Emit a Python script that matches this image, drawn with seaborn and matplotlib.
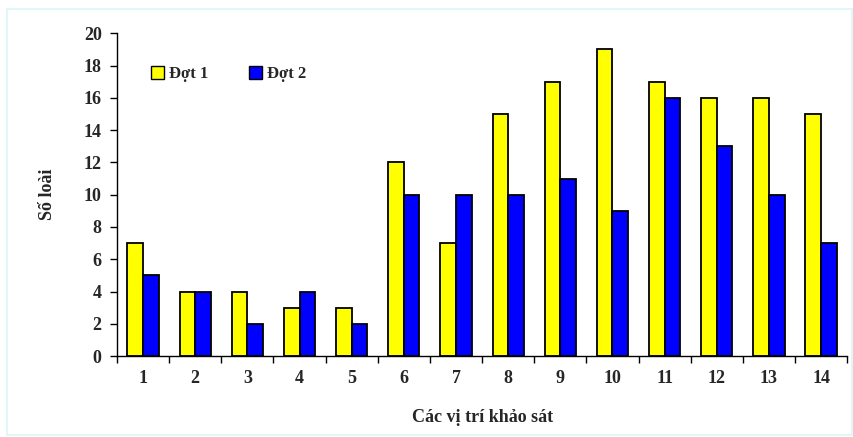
import matplotlib
matplotlib.use("Agg")
import matplotlib.pyplot as plt
import matplotlib.patches as mpatches
import seaborn as sns
import pandas as pd

sites = [str(i) for i in range(1, 15)]
dot1 = [7, 4, 4, 3, 3, 12, 7, 15, 17, 19, 17, 16, 16, 15]
dot2 = [5, 4, 2, 4, 2, 10, 10, 10, 11, 9, 16, 13, 10, 7]
series_names = ["Đợt 1", "Đợt 2"]
y_ticks = list(range(0, 21, 2))

df = pd.DataFrame({
    "site": sites * 2,
    "value": dot1 + dot2,
    "series": [series_names[0]] * len(sites) + [series_names[1]] * len(sites),
})

sns.set_style("white")
plt.rcParams["font.family"] = ["Liberation Serif", "DejaVu Serif"]
plt.rcParams["font.weight"] = "bold"

fig = plt.figure(figsize=(8.54, 4.37), dpi=100)
ax = fig.add_axes([0.137, 0.185, 0.855, 0.739])

sns.barplot(data=df, x="site", y="value", hue="series", order=sites,
            palette=["#FFFF00", "#0000FF"], width=0.6, edgecolor="black",
            linewidth=1.3, saturation=1, ax=ax)

ax.set_ylim(0, 20)
ax.set_xlim(-0.5, len(sites) - 0.5)
ax.set_yticks(y_ticks)
ax.set_yticklabels([str(t) for t in y_ticks], fontsize=13, fontweight="bold")
ax.set_xticklabels(sites, fontsize=13, fontweight="bold")

# tick marks sit between the category groups
ax.tick_params(axis="x", which="major", length=0, pad=10, bottom=False)
ax.set_xticks([i - 0.5 for i in range(len(sites) + 1)], minor=True)
ax.tick_params(axis="x", which="minor", direction="out", length=5, width=1,
               color="black", bottom=True)
ax.tick_params(axis="y", direction="out", length=5, width=1, color="black",
               left=True, pad=6)

for side in ["top", "right"]:
    ax.spines[side].set_visible(False)
for side in ["left", "bottom"]:
    ax.spines[side].set_color("black")
    ax.spines[side].set_linewidth(1)

ax.set_xlabel("Các vị trí khảo sát", fontsize=13, fontweight="bold", labelpad=16)
ax.set_ylabel("Số loài", fontsize=13, fontweight="bold", labelpad=20)

handles = [mpatches.Patch(facecolor=c, edgecolor="black", linewidth=1)
           for c in ["#FFFF00", "#0000FF"]]
ax.legend(handles, series_names, loc="upper left", bbox_to_anchor=(0.026, 0.945),
          ncol=2, frameon=False, prop={"weight": "bold", "size": 12},
          handlelength=0.8, handleheight=0.8, handletextpad=0.3, columnspacing=2.4)

fig.patches.append(mpatches.Rectangle((0.008, 0.004), 0.99, 0.975, transform=fig.transFigure,
                                      fill=False, edgecolor="#E0F6F8", linewidth=1.5))

fig.savefig("out.png", dpi=100, facecolor="white")
